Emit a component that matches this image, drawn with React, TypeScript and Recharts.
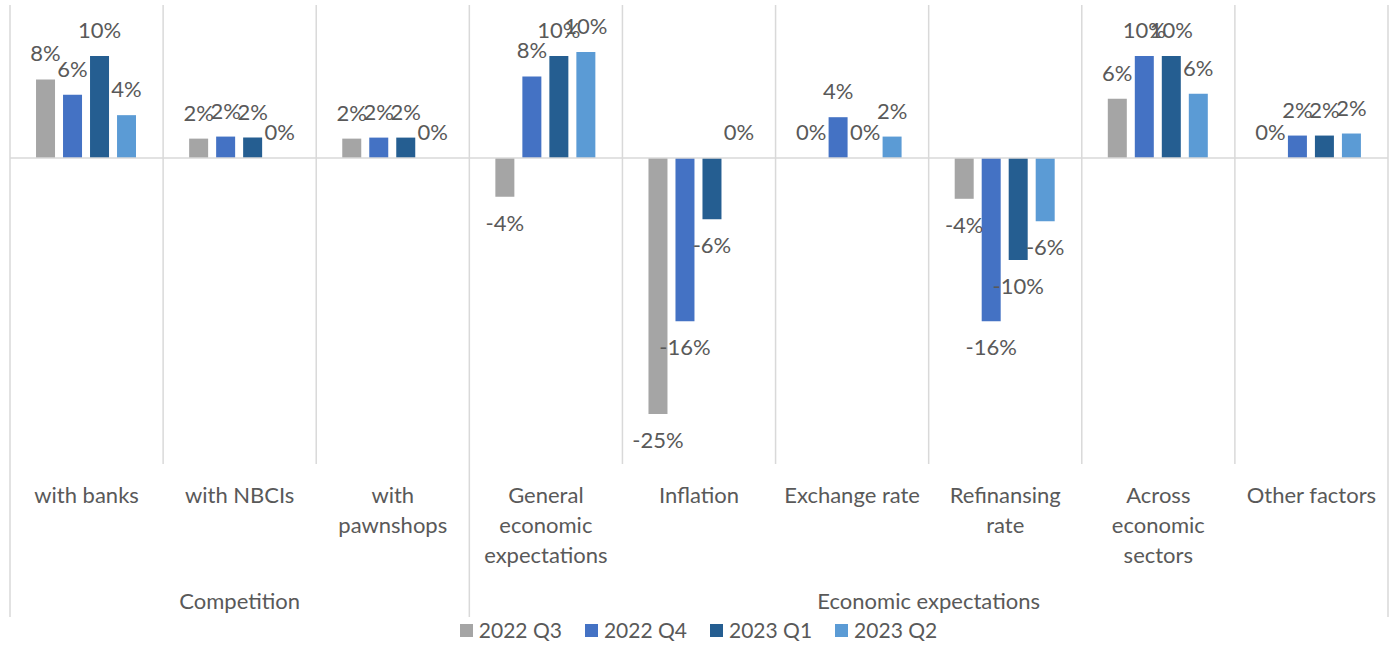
import React from 'react';
import { BarChart, Bar, XAxis, YAxis, CartesianGrid, ReferenceLine, LabelList } from 'recharts';

const categories = [
  'with banks',
  'with NBCIs',
  'with pawnshops',
  'General economic expectations',
  'Inflation',
  'Exchange rate',
  'Refinansing rate',
  'Across economic sectors',
  'Other factors',
];
const tickLabels = [
  ['with banks'],
  ['with NBCIs'],
  ['with', 'pawnshops'],
  ['General', 'economic', 'expectations'],
  ['Inflation'],
  ['Exchange rate'],
  ['Refinansing', 'rate'],
  ['Across', 'economic', 'sectors'],
  ['Other factors'],
];
const groupNames = ['Competition', 'Economic expectations'];
const groupStarts = [0, 3];
const groupEnds = [2, 8];

const q3_2022 = [7.7, 1.9, 1.9, -3.8, -25.1, 0, -4.0, 5.8, 0];
const q4_2022 = [6.2, 2.1, 2.0, 8.0, -16.0, 4.0, -16.0, 10.0, 2.2];
const q1_2023 = [10.0, 2.0, 2.0, 10.0, -6.0, 0, -10.0, 10.0, 2.2];
const q2_2023 = [4.2, 0, 0, 10.4, 0, 2.1, -6.2, 6.3, 2.4];

const seriesKeys = ['q3_2022', 'q4_2022', 'q1_2023', 'q2_2023'];
const seriesNames = ['2022 Q3', '2022 Q4', '2023 Q1', '2023 Q2'];
const seriesColors = ['#A5A5A5', '#4472C4', '#255E91', '#5B9BD5'];
const seriesValues = [q3_2022, q4_2022, q1_2023, q2_2023];

const data = categories.map((c, i) => {
  const row: any = { category: c };
  seriesKeys.forEach((k, s) => {
    row[k] = seriesValues[s][i];
  });
  return row;
});

const W = 1397;
const H = 645;
const MARGIN = { top: 5, right: 9, left: 10, bottom: 31 };
const XAXIS_H = 150;
const PLOT_W = W - MARGIN.left - MARGIN.right;
const BAND = PLOT_W / categories.length;
const FONT = 'Lato, "Open Sans", sans-serif';
const FS = 22;
const LEGEND_FS = 21;
const TEXT = '#595959';
const GRID = '#D9D9D9';

const CategoryTick = (props: any) => {
  const { x, y, payload } = props;
  const i = props.index ?? payload.index;
  const lines = tickLabels[i] || [String(payload.value)];
  const g = groupStarts.indexOf(i);
  const isLastEnd = groupEnds[groupEnds.length - 1] === i;
  return (
    <g>
      {lines.map((l, k) => (
        <text
          key={k}
          x={x}
          y={y + 39 + k * 30}
          textAnchor="middle"
          fill={TEXT}
          fontSize={FS}
          fontFamily={FONT}
        >
          {l}
        </text>
      ))}
      {g >= 0 && (
        <line x1={x - BAND / 2} x2={x - BAND / 2} y1={y} y2={y + 153} stroke={GRID} strokeWidth={1.5} />
      )}
      {isLastEnd && (
        <line x1={x + BAND / 2} x2={x + BAND / 2} y1={y} y2={y + 153} stroke={GRID} strokeWidth={1.5} />
      )}
      {g >= 0 && (
        <text
          x={x - BAND / 2 + ((groupEnds[g] - groupStarts[g] + 1) * BAND) / 2}
          y={y + 145}
          textAnchor="middle"
          fill={TEXT}
          fontSize={FS}
          fontFamily={FONT}
        >
          {groupNames[g]}
        </text>
      )}
    </g>
  );
};

const renderLabel = (props: any) => {
  const { x, y, width, height, value } = props;
  const v = Number(value);
  const cx = Number(x) + Number(width) / 2;
  const y0 = Number(y);
  const y1 = Number(y) + Number(height);
  const top = Math.min(y0, y1);
  const bot = Math.max(y0, y1);
  const ty = v >= 0 ? top - 18 : bot + 34;
  return (
    <text x={cx} y={ty} textAnchor="middle" fill={TEXT} fontSize={FS} fontFamily={FONT}>
      {`${Math.round(v)}%`}
    </text>
  );
};

export default function App() {
  return (
    <div style={{ position: 'absolute', left: 0, top: 0, width: W, height: H, background: '#fff' }}>
      <BarChart
        width={W}
        height={H}
        data={data}
        margin={MARGIN}
        barCategoryGap="17%"
        barGap={8}
      >
        <CartesianGrid
          horizontal={false}
          vertical={true}
          stroke={GRID}
          strokeWidth={1.5}
          verticalCoordinatesGenerator={({ offset }: any) =>
            Array.from({ length: categories.length + 1 }, (_, i) => offset.left + (i * offset.width) / categories.length)
          }
        />
        <XAxis
          dataKey="category"
          interval={0}
          axisLine={false}
          tickLine={false}
          tickSize={0}
          tickMargin={0}
          height={XAXIS_H}
          tick={<CategoryTick />}
        />
        <YAxis hide type="number" domain={[-30, 15]} />
        <ReferenceLine y={0} stroke={GRID} strokeWidth={1.5} />
        {seriesKeys.map((k, s) => (
          <Bar
            key={k}
            dataKey={k}
            name={seriesNames[s]}
            fill={seriesColors[s]}
            minPointSize={0.01}
            isAnimationActive={false}
          >
            <LabelList dataKey={k} content={renderLabel} />
          </Bar>
        ))}
      </BarChart>
      <div
        style={{
          position: 'absolute',
          left: 0,
          top: 617,
          width: W,
          display: 'flex',
          justifyContent: 'center',
          gap: 23,
          fontFamily: FONT,
          fontSize: LEGEND_FS,
          color: TEXT,
          lineHeight: '26px',
        }}
      >
        {seriesNames.map((n, s) => (
          <div key={n} style={{ display: 'flex', alignItems: 'center' }}>
            <span style={{ display: 'inline-block', width: 13, height: 13, background: seriesColors[s], marginRight: 6 }} />
            <span>{n}</span>
          </div>
        ))}
      </div>
    </div>
  );
}
